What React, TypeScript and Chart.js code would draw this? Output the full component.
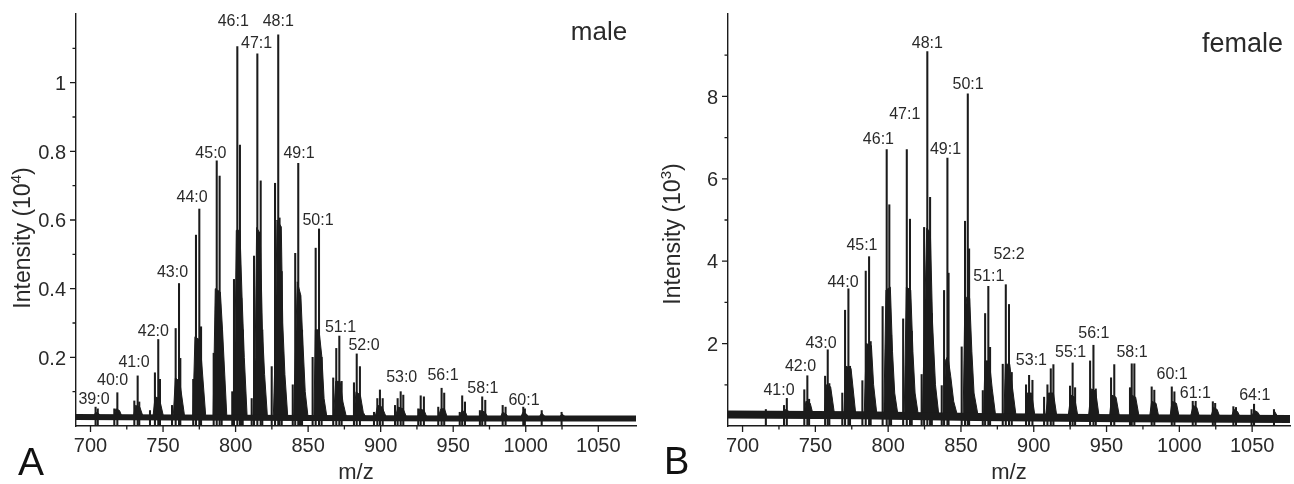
import React, { useEffect, useRef } from "react";
import { Chart, registerables } from "chart.js";

Chart.register(...registerables);

// ---------------- shared axis ticks ----------------
const X_MIN = 690;
const X_MAX = 1076;
const X_MAJOR = [700, 750, 800, 850, 900, 950, 1000, 1050];
const X_MAJOR_LABELS = ["700", "750", "800", "850", "900", "950", "1000", "1050"];
const X_MINOR = [725, 775, 825, 875, 925, 975, 1025];

// ---------------- Panel A : male (Intensity x10^4) ----------------
const Y_MAX_A = 1.2;
const Y_MAJOR_A = [0.2, 0.4, 0.6, 0.8, 1.0];
const Y_MAJOR_LABELS_A = ["0.2", "0.4", "0.6", "0.8", "1"];
const Y_MINOR_A = [0.1, 0.3, 0.5, 0.7, 0.9, 1.1];

// stick peaks [m/z, intensity]
const sticksA = [
  [703.5, 0.055], [705, 0.05],
  [716.4, 0.05], [718.5, 0.097],
  [730.2, 0.073], [732.5, 0.146], [733.6, 0.07],
  [741, 0.045], [744.4, 0.155], [746.7, 0.252], [747.9, 0.136],
  [756.2, 0.06], [758.7, 0.284], [761, 0.415], [761.9, 0.197],
  [770.8, 0.136], [772.7, 0.556], [775, 0.632], [776.2, 0.289],
  [784.9, 0.212], [787, 0.772], [789, 0.728], [790.4, 0.28],
  [797.7, 0.1], [798.9, 0.427], [801.2, 1.105], [803, 0.818], [803.9, 0.372], [804.9, 0.28],
  [811.1, 0.08], [812.7, 0.495], [815, 1.084], [817.3, 0.714], [818.4, 0.28],
  [824.9, 0.173], [827.2, 0.707], [829.4, 1.139], [830.3, 0.606], [831.8, 0.45],
  [839.4, 0.12], [841.1, 0.503], [843.2, 0.765], [844.4, 0.38], [845.8, 0.28],
  [853.1, 0.2], [855.2, 0.518], [857.5, 0.574], [859.3, 0.2],
  [867.3, 0.14], [869.4, 0.226], [871.5, 0.262], [873.1, 0.13],
  [881.6, 0.126], [883.5, 0.21], [885.7, 0.173],
  [895.4, 0.04], [897.7, 0.08], [899.5, 0.105], [901.4, 0.08],
  [909.9, 0.06], [911.7, 0.08], [913.8, 0.1], [915.6, 0.09],
  [925.9, 0.05], [927.6, 0.088], [929.8, 0.085],
  [939.7, 0.055], [942, 0.11], [943.8, 0.096],
  [954.5, 0.04], [956.2, 0.088], [958.1, 0.07],
  [968.4, 0.045], [970, 0.085], [972.1, 0.075],
  [984.1, 0.06], [986.1, 0.055],
  [998.3, 0.055], [999.4, 0.05],
  [1011, 0.045], [1024.7, 0.04],
];

// dense isotope envelopes of each cluster [m/z, intensity]
const bodiesA = [
  [[702, 0.024], [703.5, 0.04], [706, 0.035], [707.5, 0.024]],
  [[716, 0.024], [717.5, 0.05], [720, 0.045], [722, 0.024]],
  [[729.5, 0.024], [731, 0.06], [734, 0.055], [736.5, 0.024]],
  [[743, 0.024], [744.5, 0.085], [747.5, 0.08], [750.5, 0.024]],
  [[757, 0.024], [758.5, 0.14], [761.5, 0.13], [765, 0.024]],
  [[770.5, 0.024], [772, 0.26], [775.5, 0.25], [779.5, 0.024]],
  [[784.5, 0.024], [786, 0.4], [789.5, 0.39], [791, 0.28], [794, 0.024]],
  [[798, 0.024], [799.5, 0.2], [800.5, 0.57], [803, 0.57], [804.5, 0.37], [806, 0.2], [808, 0.024]],
  [[812, 0.024], [813.5, 0.2], [814.5, 0.578], [817, 0.56], [818.5, 0.28], [820, 0.15], [822, 0.024]],
  [[826, 0.024], [827.5, 0.25], [828.5, 0.6], [831.5, 0.58], [832.5, 0.3], [834, 0.15], [836, 0.024]],
  [[840, 0.024], [841.5, 0.25], [842.5, 0.42], [845, 0.38], [846, 0.28], [848, 0.1], [850, 0.024]],
  [[854, 0.024], [855, 0.28], [857.5, 0.28], [859.5, 0.2], [861, 0.08], [863, 0.024]],
  [[867.5, 0.024], [869, 0.13], [872, 0.13], [874, 0.07], [876.5, 0.024]],
  [[881.5, 0.024], [883, 0.1], [886, 0.09], [888, 0.04], [890, 0.024]],
  [[896, 0.024], [898, 0.06], [901, 0.055], [904, 0.024]],
  [[910, 0.024], [912, 0.055], [915.5, 0.05], [918, 0.024]],
  [[925.5, 0.024], [927, 0.05], [930, 0.045], [932, 0.024]],
  [[939.5, 0.024], [941.5, 0.05], [944, 0.05], [946, 0.024]],
  [[954, 0.024], [956, 0.045], [958.5, 0.04], [960, 0.024]],
  [[968, 0.024], [969.5, 0.045], [972, 0.04], [974, 0.024]],
  [[982.5, 0.024], [984, 0.04], [986.5, 0.035], [988, 0.024]],
  [[996.5, 0.024], [998, 0.04], [1000.5, 0.035], [1002, 0.024]],
  [[1009, 0.024], [1011, 0.038], [1014, 0.024]],
  [[1023, 0.024], [1025, 0.035], [1028, 0.024]],
];

const baselineA = [[690, 0.026], [760, 0.025], [850, 0.023], [950, 0.022], [1076, 0.022]];

// peak annotations [text, m/z, intensity]
const peakLabelsA: [string, number, number][] = [
  ["39:0", 702.4, 0.064], ["40:0", 715.2, 0.119], ["41:0", 730, 0.173],
  ["42:0", 743.3, 0.262], ["43:0", 756.5, 0.433], ["44:0", 770, 0.652],
  ["45:0", 783, 0.78], ["46:1", 798.4, 1.165], ["47:1", 814.5, 1.1],
  ["48:1", 829.4, 1.165], ["49:1", 843.7, 0.78], ["50:1", 856.8, 0.585],
  ["51:1", 872.3, 0.275], ["52:0", 888.5, 0.221], ["53:0", 914.5, 0.129],
  ["56:1", 943, 0.134], ["58:1", 970.5, 0.097], ["60:1", 998.8, 0.061],
];

// ---------------- Panel B : female (Intensity x10^3) ----------------
const Y_MAX_B = 10;
const Y_MAJOR_B = [2, 4, 6, 8];
const Y_MAJOR_LABELS_B = ["2", "4", "6", "8"];
const Y_MINOR_B = [1, 3, 5, 7, 9];

const sticksB = [
  [716, 0.4],
  [728.5, 0.5], [730.4, 0.67],
  [742.4, 0.88], [744.5, 1.22], [745.7, 0.65],
  [756.7, 1.21], [758.5, 1.85], [759.6, 1.03],
  [768.5, 0.8], [770.4, 2.81], [772.7, 3.33], [773.8, 1.45],
  [782.3, 1.1], [784.6, 3.76], [786.9, 4.11], [788, 2.05],
  [796.2, 2.9], [799, 6.71], [800.8, 5.37], [802, 2.2],
  [810.3, 2.6], [812.8, 6.71], [815, 5.02], [816.2, 2.3],
  [823, 1.25], [824.7, 4.82], [826.9, 9.09], [828.8, 5.55], [830, 2.73],
  [836.8, 0.98], [838.4, 3.29], [840.7, 6.5], [841.5, 3.71],
  [850.5, 1.92], [852.8, 4.97], [854.7, 8.06], [855.6, 4.3],
  [865, 0.86], [866.6, 2.73], [868.8, 3.39], [870, 1.91],
  [878.7, 1.5], [880.8, 3.43], [883, 2.95], [884.9, 1.3],
  [894.7, 1.0], [896.8, 1.23], [899.1, 1.11],
  [907.1, 0.7], [909.4, 1.0], [911.7, 1.39], [913.5, 1.49],
  [924.9, 0.97], [926.7, 1.53], [928.4, 0.93],
  [938.7, 1.58], [941, 1.96], [942.6, 0.9],
  [953.1, 1.17], [955.3, 1.49],
  [966.1, 0.93], [967.3, 1.51], [969.1, 1.51],
  [981, 0.95], [982.8, 0.87],
  [994.8, 0.95], [996.6, 0.83],
  [1009.2, 0.6], [1011.2, 0.6],
  [1023, 0.59], [1024.6, 0.55],
  [1037.1, 0.47], [1038.9, 0.45],
  [1049.6, 0.4], [1051.3, 0.53],
  [1065, 0.4],
];

const bodiesB = [
  [[728, 0.2], [729.5, 0.4], [732, 0.35], [734, 0.2]],
  [[742, 0.2], [743.5, 0.6], [746.5, 0.55], [749, 0.2]],
  [[756, 0.2], [757.5, 1.0], [760.5, 0.95], [763.5, 0.2]],
  [[769.5, 0.2], [771, 1.45], [774.5, 1.4], [778, 0.2]],
  [[783.5, 0.2], [785, 2.0], [788.5, 1.95], [790, 1.0], [792.5, 0.2]],
  [[797, 0.2], [798.5, 3.3], [801.5, 3.37], [803, 1.8], [804.5, 0.8], [807, 0.2]],
  [[811, 0.2], [812.5, 3.37], [815.5, 3.3], [817, 1.8], [818.5, 0.8], [821, 0.2]],
  [[823.5, 0.2], [825, 2.6], [826.5, 4.8], [829, 4.7], [830.5, 2.5], [832.5, 1.0], [835, 0.2]],
  [[838, 0.2], [839.5, 1.6], [841, 1.7], [843, 1.2], [845, 0.6], [848, 0.2]],
  [[851.5, 0.2], [852.5, 2.6], [854, 3.13], [856, 3.1], [857.5, 1.8], [859, 0.8], [862, 0.2]],
  [[865.5, 0.2], [866.5, 1.58], [869.5, 1.58], [871.5, 0.9], [874, 0.2]],
  [[879.5, 0.2], [880.5, 1.5], [883.5, 1.5], [885.5, 0.9], [888, 0.2]],
  [[894, 0.2], [895.5, 0.8], [898.5, 0.8], [901, 0.2]],
  [[908, 0.2], [910, 0.8], [913.5, 0.8], [916, 0.2]],
  [[923.5, 0.2], [925.5, 0.75], [928, 0.7], [930.5, 0.2]],
  [[937.5, 0.2], [939.5, 0.9], [942.5, 0.85], [945, 0.2]],
  [[952, 0.2], [953.5, 0.75], [956.5, 0.7], [959, 0.2]],
  [[965.5, 0.2], [967, 0.75], [970, 0.7], [972.5, 0.2]],
  [[979.5, 0.2], [981, 0.6], [984, 0.55], [986, 0.2]],
  [[993.5, 0.2], [995, 0.6], [998, 0.55], [1000, 0.2]],
  [[1007.5, 0.2], [1009.5, 0.5], [1012, 0.45], [1014, 0.2]],
  [[1021.5, 0.2], [1023.5, 0.45], [1026, 0.4], [1028, 0.2]],
  [[1035.5, 0.2], [1037.5, 0.4], [1040, 0.35], [1042, 0.2]],
  [[1049.5, 0.2], [1051.5, 0.38], [1054, 0.33], [1056, 0.2]],
  [[1064, 0.2], [1065.5, 0.35], [1068, 0.2]],
];

const baselineB = [[690, 0.28], [780, 0.26], [860, 0.22], [960, 0.19], [1076, 0.17]];

const peakLabelsB: [string, number, number][] = [
  ["41:0", 725, 0.75], ["42:0", 739.8, 1.34], ["43:0", 753.9, 1.9],
  ["44:0", 769, 3.37], ["45:1", 782, 4.27], ["46:1", 793.3, 6.84],
  ["47:1", 811.4, 7.44], ["48:1", 826.9, 9.17], ["49:1", 839.4, 6.59],
  ["50:1", 854.9, 8.19], ["51:1", 869.1, 3.51], ["52:2", 883, 4.06],
  ["53:1", 898.4, 1.48], ["55:1", 925.3, 1.68], ["56:1", 941.3, 2.14],
  ["58:1", 967.5, 1.68], ["60:1", 995, 1.15], ["61:1", 1011, 0.69],
  ["64:1", 1051.8, 0.63],
];

// ---------------- rendering ----------------
const FONT = '"Liberation Sans", Arial, Helvetica, sans-serif';
const INK = "#1b1b1b";
const TEXT = "#2a2a2a";

type PanelProps = {
  left: number;
  width: number;
  padding: { left: number; right: number; top: number; bottom: number };
  sticks: number[][];
  bodies: number[][][];
  baseline: number[][];
  bodyBase: number;
  baseWidth: number;
  yMax: number;
  yMajor: number[];
  yMajorLabels: string[];
  yMinor: number[];
  peakLabels: [string, number, number][];
  titleSup: string;
  titleX: number;
  titleY: number;
  letter: string;
  letterX: number;
  letterY: number;
  letterSize: number;
  sex: string;
  sexX: number;
  sexY: number;
  sexSize: number;
};

function Panel(p: PanelProps) {
  const ref = useRef<HTMLCanvasElement>(null);

  useEffect(() => {
    const canvas = ref.current!;
    const bodyData: any[] = [];
    p.bodies.forEach((poly) => {
      poly.forEach(([x, y]) => bodyData.push({ x, y }));
      bodyData.push({ x: poly[poly.length - 1][0], y: null });
    });

    const decor = {
      id: "decor",
      afterDraw(chart: any) {
        const { ctx, chartArea: ca, scales } = chart;
        const xs = scales.x;
        const ys = scales.y;
        ctx.save();
        // tick marks
        ctx.strokeStyle = INK;
        ctx.lineWidth = 1.3;
        ctx.beginPath();
        X_MAJOR.forEach((v) => {
          const px = xs.getPixelForValue(v);
          ctx.moveTo(px, ca.bottom);
          ctx.lineTo(px, ca.bottom + 6);
        });
        X_MINOR.forEach((v) => {
          const px = xs.getPixelForValue(v);
          ctx.moveTo(px, ca.bottom);
          ctx.lineTo(px, ca.bottom + 3.5);
        });
        p.yMajor.forEach((v) => {
          const py = ys.getPixelForValue(v);
          ctx.moveTo(ca.left, py);
          ctx.lineTo(ca.left - 6, py);
        });
        p.yMinor.forEach((v) => {
          const py = ys.getPixelForValue(v);
          ctx.moveTo(ca.left, py);
          ctx.lineTo(ca.left - 3.5, py);
        });
        ctx.stroke();

        // tick labels
        ctx.fillStyle = TEXT;
        ctx.font = `20px ${FONT}`;
        ctx.textBaseline = "alphabetic";
        ctx.textAlign = "center";
        X_MAJOR.forEach((v, i) => {
          ctx.fillText(X_MAJOR_LABELS[i], xs.getPixelForValue(v), ca.bottom + 25.5);
        });
        ctx.textAlign = "right";
        p.yMajor.forEach((v, i) => {
          ctx.fillText(p.yMajorLabels[i], ca.left - 10, ys.getPixelForValue(v) + 7.2);
        });

        // peak annotations
        ctx.font = `16px ${FONT}`;
        ctx.textAlign = "center";
        p.peakLabels.forEach(([t, m, v]) => {
          ctx.fillText(t, xs.getPixelForValue(m), ys.getPixelForValue(v));
        });

        // x title
        ctx.font = `22px ${FONT}`;
        ctx.fillText("m/z", (ca.left + ca.right) / 2, 478.5);

        // y title (rotated, with superscript)
        ctx.save();
        ctx.translate(p.titleX, p.titleY);
        ctx.rotate(-Math.PI / 2);
        ctx.textAlign = "left";
        const main = "Intensity (10";
        ctx.font = `23px ${FONT}`;
        const w1 = ctx.measureText(main).width;
        const w3 = ctx.measureText(")").width;
        ctx.font = `15px ${FONT}`;
        const w2 = ctx.measureText(p.titleSup).width;
        let cx = -(w1 + w2 + w3) / 2;
        ctx.font = `23px ${FONT}`;
        ctx.fillText(main, cx, 0);
        cx += w1;
        ctx.font = `15px ${FONT}`;
        ctx.fillText(p.titleSup, cx, -9);
        cx += w2;
        ctx.font = `23px ${FONT}`;
        ctx.fillText(")", cx, 0);
        ctx.restore();

        // panel letter and sex label
        ctx.textAlign = "left";
        ctx.font = `${p.letterSize}px ${FONT}`;
        ctx.fillStyle = "#111";
        ctx.fillText(p.letter, p.letterX, p.letterY);
        ctx.fillStyle = TEXT;
        ctx.textAlign = "center";
        ctx.font = `${p.sexSize}px ${FONT}`;
        ctx.fillText(p.sex, p.sexX, p.sexY);
        ctx.restore();
      },
    };

    const chart = new Chart(canvas, {
      type: "line",
      data: {
        datasets: [
          {
            type: "line",
            data: p.baseline.map(([x, y]) => ({ x, y })),
            borderColor: INK,
            borderWidth: p.baseWidth,
            pointRadius: 0,
            fill: false,
            tension: 0,
          },
          {
            type: "line",
            data: bodyData,
            borderColor: INK,
            backgroundColor: INK,
            borderWidth: 1,
            pointRadius: 0,
            spanGaps: false,
            fill: { value: p.bodyBase },
            tension: 0,
          },
          {
            type: "bar",
            data: p.sticks.map(([x, y]) => ({ x, y })),
            backgroundColor: INK,
            borderWidth: 0,
            barThickness: 1.4,
          } as any,
        ],
      },
      options: {
        responsive: false,
        maintainAspectRatio: false,
        animation: false,
        layout: { padding: p.padding },
        plugins: { legend: { display: false }, tooltip: { enabled: false } },
        scales: {
          x: {
            type: "linear",
            min: X_MIN,
            max: X_MAX,
            offset: false,
            grid: { display: false, drawTicks: false },
            border: { display: true, color: INK, width: 1.4 },
            ticks: { display: false },
          },
          y: {
            type: "linear",
            min: 0,
            max: p.yMax,
            grid: { display: false, drawTicks: false },
            border: { display: true, color: INK, width: 1.4 },
            ticks: { display: false },
          },
        },
      },
      plugins: [decor],
    } as any);
    return () => chart.destroy();
  }, []);

  return (
    <canvas
      ref={ref}
      width={p.width}
      height={484}
      style={{ position: "absolute", left: p.left, top: 0, width: p.width, height: 484 }}
    />
  );
}

export default function App() {
  return (
    <div style={{ position: "absolute", left: 0, top: 0, width: 1294, height: 484, background: "#fff" }}>
      <Panel
        left={0}
        width={650}
        padding={{ left: 76, right: 14, top: 14, bottom: 58 }}
        sticks={sticksA}
        bodies={bodiesA}
        baseline={baselineA}
        bodyBase={0.024}
        baseWidth={6}
        yMax={Y_MAX_A}
        yMajor={Y_MAJOR_A}
        yMajorLabels={Y_MAJOR_LABELS_A}
        yMinor={Y_MINOR_A}
        peakLabels={peakLabelsA}
        titleSup="4"
        titleX={30}
        titleY={238}
        letter="A"
        letterX={18}
        letterY={475}
        letterSize={39}
        sex="male"
        sexX={599}
        sexY={40}
        sexSize={26}
      />
      <Panel
        left={650}
        width={644}
        padding={{ left: 78, right: 4, top: 14, bottom: 58 }}
        sticks={sticksB}
        bodies={bodiesB}
        baseline={baselineB}
        bodyBase={0.2}
        baseWidth={8}
        yMax={Y_MAX_B}
        yMajor={Y_MAJOR_B}
        yMajorLabels={Y_MAJOR_LABELS_B}
        yMinor={Y_MINOR_B}
        peakLabels={peakLabelsB}
        titleSup="3"
        titleX={30}
        titleY={234}
        letter="B"
        letterX={14}
        letterY={473.5}
        letterSize={38}
        sex="female"
        sexX={592.5}
        sexY={51.5}
        sexSize={27}
      />
    </div>
  );
}
